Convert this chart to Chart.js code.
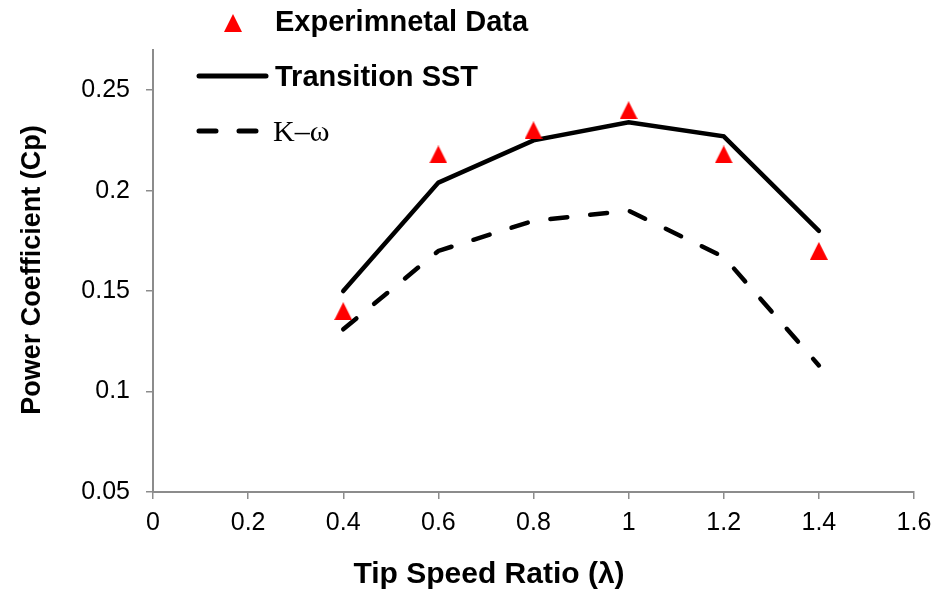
<!DOCTYPE html>
<html>
<head>
<meta charset="utf-8">
<script src="https://cdn.jsdelivr.net/npm/chart.js@4/dist/chart.umd.min.js"></script>
<style>
  html, body { margin: 0; padding: 0; background: #ffffff; }
  #wrap { width: 949px; height: 597px; position: relative; }
</style>
</head>
<body>
<div id="wrap"><canvas id="c" width="949" height="597" style="width:949px;height:597px"></canvas></div>
<script>
// ---- data ----
const tipSpeedRatio = [0.4, 0.6, 0.8, 1.0, 1.2, 1.4];
const experimentalCp = [0.14, 0.218, 0.23, 0.24, 0.218, 0.17];
const transitionSstCp = [0.15, 0.204, 0.225, 0.234, 0.227, 0.18];
const kOmegaCp = [0.131, 0.17, 0.185, 0.19, 0.167, 0.113];
const xTicks = [0, 0.2, 0.4, 0.6, 0.8, 1, 1.2, 1.4, 1.6];
const yTicks = [0.05, 0.1, 0.15, 0.2, 0.25];
const seriesLabels = ['Experimnetal Data', 'Transition SST', 'K\u2013\u03C9'];
const xTitle = 'Tip Speed Ratio (\u03BB)';
const yTitle = 'Power Coefficient (Cp)';

// ---- red triangle marker ----
function makeTriangle(w, h, color) {
  const cv = document.createElement('canvas');
  cv.width = w; cv.height = h;
  const g = cv.getContext('2d');
  g.fillStyle = color;
  g.beginPath();
  g.moveTo(w / 2, 0);
  g.lineTo(w, h);
  g.lineTo(0, h);
  g.closePath();
  g.fill();
  return cv;
}
const tri = makeTriangle(18, 18, '#ff0000');

const pts = (ys) => tipSpeedRatio.map((x, i) => ({ x: x, y: ys[i] }));
const fmt = (v) => String(parseFloat(Number(v).toFixed(2)));

const SANS = '"Liberation Sans", Arial, sans-serif';
const SERIF = '"Liberation Serif", "Times New Roman", serif';

const overlay = {
  id: 'overlay',
  afterDraw(chart) {
    const ctx = chart.ctx;
    ctx.save();
    ctx.fillStyle = '#000';
    // axis titles
    ctx.textAlign = 'center';
    ctx.textBaseline = 'alphabetic';
    ctx.font = 'bold 30px ' + SANS;
    ctx.fillText(xTitle, 489, 583);
    ctx.font = 'bold 27px ' + SANS;
    ctx.save();
    ctx.translate(40, 270);
    ctx.rotate(-Math.PI / 2);
    ctx.fillText(yTitle, 0, 0);
    ctx.restore();

    // legend
    ctx.textAlign = 'left';
    ctx.drawImage(tri, 233 - 9, 23 - 9);
    ctx.font = 'bold 29px ' + SANS;
    ctx.fillText(seriesLabels[0], 275, 31);

    ctx.strokeStyle = '#000';
    ctx.lineWidth = 5;
    ctx.lineCap = 'round';
    ctx.beginPath();
    ctx.moveTo(199, 76); ctx.lineTo(266, 76);
    ctx.stroke();
    ctx.fillText(seriesLabels[1], 275, 86);

    ctx.setLineDash([17, 23]);
    ctx.beginPath();
    ctx.moveTo(199, 131); ctx.lineTo(266, 131);
    ctx.stroke();
    ctx.setLineDash([]);
    ctx.font = '30px ' + SERIF;
    ctx.fillText(seriesLabels[2], 273, 141);
    ctx.restore();
  }
};

const axisColor = '#8c8c8c';

new Chart(document.getElementById('c'), {
  type: 'scatter',
  data: {
    datasets: [
      {
        label: seriesLabels[0],
        data: pts(experimentalCp),
        showLine: false,
        pointStyle: tri,
        pointRadius: 9,
        pointHoverRadius: 9
      },
      {
        label: seriesLabels[1],
        data: pts(transitionSstCp),
        showLine: true,
        borderColor: '#000',
        borderWidth: 4.5,
        borderCapStyle: 'round',
        borderJoinStyle: 'miter',
        pointRadius: 0,
        pointHoverRadius: 0,
        tension: 0
      },
      {
        label: seriesLabels[2],
        data: pts(kOmegaCp),
        showLine: true,
        borderColor: '#000',
        borderWidth: 4.5,
        borderDash: [17, 23],
        borderCapStyle: 'round',
        pointRadius: 0,
        pointHoverRadius: 0,
        tension: 0
      }
    ]
  },
  options: {
    responsive: false,
    animation: false,
    devicePixelRatio: 1,
    layout: { padding: { top: 50, right: 35, left: 0, bottom: 0 } },
    plugins: { legend: { display: false }, tooltip: { enabled: false }, title: { display: false } },
    scales: {
      x: {
        type: 'linear',
        min: 0, max: 1.6,
        afterFit(s) { s.height = 105; },
        afterBuildTicks(s) { s.ticks = xTicks.map(v => ({ value: v })); },
        ticks: {
          callback: fmt,
          color: '#000',
          font: { family: SANS, size: 25 },
          padding: 9,
          maxRotation: 0,
          autoSkip: false
        },
        grid: { drawOnChartArea: false, drawTicks: true, tickLength: 7, color: axisColor, lineWidth: 1.5 },
        border: { display: true, color: axisColor, width: 2 }
      },
      y: {
        type: 'linear',
        min: 0.05, max: 0.27,
        afterFit(s) { s.width = 153; },
        afterBuildTicks(s) { s.ticks = yTicks.map(v => ({ value: v })); },
        ticks: {
          callback: fmt,
          color: '#000',
          font: { family: SANS, size: 25 },
          padding: 16,
          autoSkip: false
        },
        grid: { drawOnChartArea: false, drawTicks: true, tickLength: 7, color: axisColor, lineWidth: 1.5 },
        border: { display: true, color: axisColor, width: 2 }
      }
    }
  },
  plugins: [overlay]
});
</script>
</body>
</html>
